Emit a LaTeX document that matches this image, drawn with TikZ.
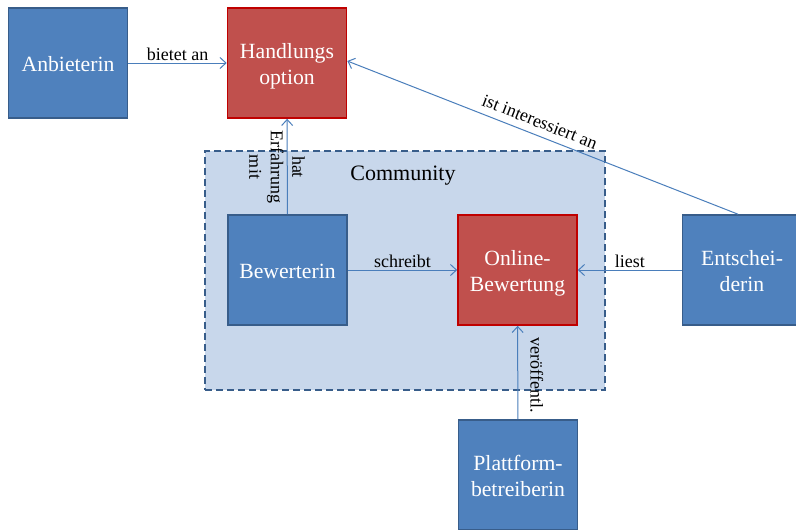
\documentclass[tikz,border=0pt]{standalone}
\usepackage{fontspec}
\setmainfont{Liberation Serif}
\usetikzlibrary{arrows.meta}
\definecolor{bfill}{HTML}{4F81BD}
\definecolor{bline}{HTML}{385D8A}
\definecolor{rfill}{HTML}{C0504D}
\definecolor{rline}{HTML}{C00000}
\definecolor{cfill}{HTML}{C8D7EB}
\definecolor{arr}{HTML}{4A7EBB}
\tikzset{
  bluebox/.style={draw=bline, fill=bfill, line width=1.6pt, minimum width=119pt, minimum height=110pt,
    text=white, align=center, inner sep=0pt, font=\fontsize{21.7}{26}\selectfont},
  redbox/.style={bluebox, draw=rline, fill=rfill},
  conn/.style={draw=arr, line width=1pt, -{Straight Barb[length=6pt,width=11pt]}},
  lbl/.style={font=\fontsize{18}{21.5}\selectfont, inner sep=2pt, text=black},
}
\newcommand{\boxtext}[1]{\raisebox{-3.7pt}[\height][\depth]{\begin{tabular}{@{}c@{}}#1\end{tabular}}}
\begin{document}
\begin{tikzpicture}[x=1pt,y=-1pt]
\useasboundingbox (0,0) rectangle (796,530);
\fill[white] (0,0) rectangle (796,530);
\node[draw=bline, fill=cfill, line width=1.6pt, dash pattern=on 7pt off 4pt,
  minimum width=400pt, minimum height=239pt, inner sep=0pt] (comm) at (405,270.5) {};
\node[font=\fontsize{22}{26}\selectfont] (commlbl) at (403,176) {Community};
\node[bluebox] (anb) at (68,63) {\boxtext{Anbieterin}};
\node[redbox] (hand) at (287,63) {\boxtext{Handlungs\\option}};
\node[bluebox] (bew) at (287.5,270) {\boxtext{Bewerterin}};
\node[redbox] (onl) at (517.5,270) {\boxtext{Online-\\Bewertung}};
\node[bluebox] (ent) at (742,270) {\boxtext{Entschei-\\derin}};
\node[bluebox] (plat) at (518,475) {\boxtext{Plattform-\\betreiberin}};

\draw[conn] (anb) -- node[lbl, above] {bietet an} (hand);
\draw[conn] (bew) -- (hand);
\node[lbl, rotate=-90, align=center] (hatlbl) at (277,167) {hat\\Erfahrung\\mit};
\draw[conn] (bew) -- node[lbl, above] {schreibt} (onl);
\draw[conn] (ent) -- node[lbl, above] {liest} (onl);
\draw[conn] (plat) -- node[lbl, rotate=-90, anchor=south, pos=0.47, yshift=10pt] {veröffentl.} (onl);
\draw[conn] ([xshift=-4pt]ent.north) -- node[lbl, sloped, above=5pt, pos=0.52] {ist interessiert an} ([yshift=2pt]hand.east);
\end{tikzpicture}
\end{document}
